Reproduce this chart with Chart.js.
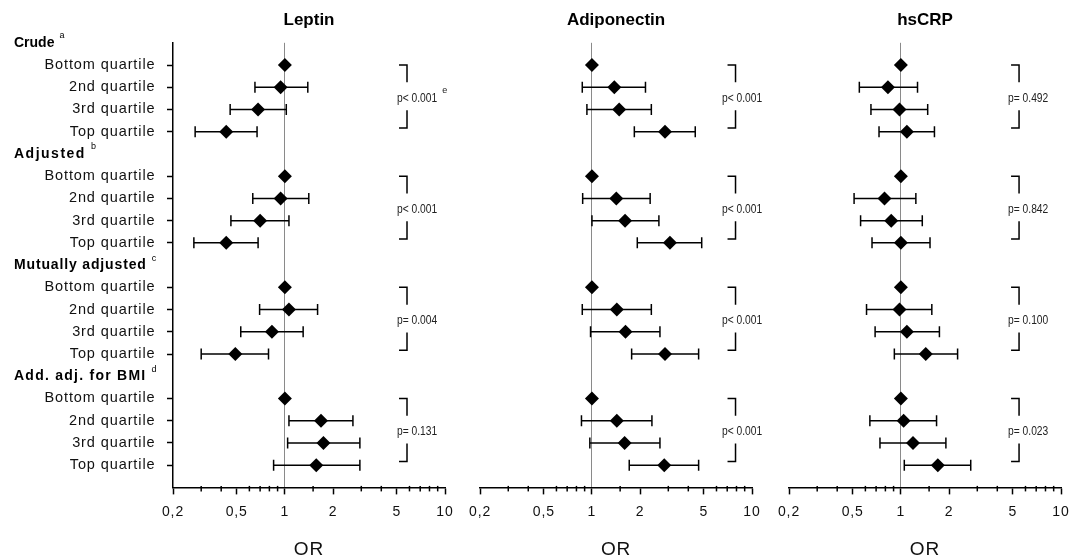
<!DOCTYPE html>
<html>
<head>
<meta charset="utf-8">
<script src="https://cdn.jsdelivr.net/npm/chart.js@4.4.1/dist/chart.umd.min.js"></script>
<style>
  html, body { margin: 0; padding: 0; background: #fff; }
  #wrap { position: relative; width: 1070px; height: 556px; overflow: hidden; }
  canvas { position: absolute; top: 0; }
</style>
</head>
<body>
<div id="wrap">
  <canvas id="leptinChart" width="470" height="556" style="left:0px"></canvas>
  <canvas id="adipoChart" width="320" height="556" style="left:460px"></canvas>
  <canvas id="crpChart" width="330" height="556" style="left:760px"></canvas>
</div>
<script>
// rows: 4 models x 4 quartiles
const quartiles = ['Bottom quartile', '2nd quartile', '3rd quartile', 'Top quartile'];
const models = ['Crude', 'Adjusted', 'Mutually adjusted', 'Add. adj. for BMI'];
const modelNotes = ['a', 'b', 'c', 'd'];
const xTickValues = [0.2, 0.5, 1, 2, 5, 10];
const xTickLabels = ['0,2', '0,5', '1', '2', '5', '10'];

// Leptin
const leptinOR = [1, 0.94, 0.68, 0.43, 1, 0.94, 0.70, 0.43, 1, 1.06, 0.83, 0.49, 1, 1.68, 1.74, 1.57];
const leptinLo = [null, 0.65, 0.455, 0.275, null, 0.63, 0.46, 0.27, null, 0.695, 0.53, 0.30, null, 1.06, 1.04, 0.85];
const leptinHi = [null, 1.39, 1.02, 0.67, null, 1.41, 1.06, 0.68, null, 1.60, 1.30, 0.79, null, 2.66, 2.94, 2.94];
const leptinP = ['p< 0.001', 'p< 0.001', 'p= 0.004', 'p= 0.131'];
const leptinPNote = ['e', '', '', ''];

// Adiponectin
const adipoOR = [1, 1.38, 1.48, 2.86, 1, 1.42, 1.61, 3.07, 1, 1.43, 1.62, 2.86, 1, 1.43, 1.60, 2.83];
const adipoLo = [null, 0.87, 0.93, 1.84, null, 0.875, 1.0, 1.92, null, 0.87, 0.98, 1.77, null, 0.86, 0.97, 1.71];
const adipoHi = [null, 2.16, 2.35, 4.42, null, 2.31, 2.62, 4.85, null, 2.35, 2.66, 4.64, null, 2.37, 2.66, 4.64];
const adipoP = ['p< 0.001', 'p< 0.001', 'p< 0.001', 'p< 0.001'];

// hsCRP
const crpOR = [1, 0.83, 0.98, 1.09, 1, 0.79, 0.87, 1.0, 1, 0.98, 1.09, 1.43, 1, 1.04, 1.19, 1.70];
const crpLo = [null, 0.55, 0.65, 0.73, null, 0.51, 0.56, 0.66, null, 0.61, 0.69, 0.91, null, 0.64, 0.74, 1.05];
const crpHi = [null, 1.27, 1.47, 1.62, null, 1.24, 1.36, 1.52, null, 1.56, 1.74, 2.26, null, 1.67, 1.91, 2.73];
const crpP = ['p= 0.492', 'p= 0.842', 'p= 0.100', 'p= 0.023'];

const SANS = '"Liberation Sans", Arial, sans-serif';
const headerSpacing = [0, 1.5, 0.85, 1.25];

const rowOf = i => Math.floor(i / 4) * 5 + (i % 4) + 1;

function decorPlugin(info) {
    return {
        id: 'decor',
        beforeLayout(chart) { chart.ctx.letterSpacing = '0.9px'; },
        beforeDraw(chart) { chart.ctx.letterSpacing = '0.9px'; },
        afterDraw(chart) {
            const ctx = chart.ctx;
            const area = chart.chartArea;
            const x = chart.scales.x;
            const y = chart.scales.y;
            ctx.save();
            ctx.letterSpacing = '0px';
            ctx.fillStyle = '#000';
            ctx.strokeStyle = '#000';

            // panel title
            ctx.font = 'bold 17px ' + SANS;
            ctx.textAlign = 'center';
            ctx.textBaseline = 'middle';
            ctx.fillText(info.title, (area.left + area.right) / 2, 20);

            // minor ticks on the log axis
            ctx.lineWidth = 1.5;
            x.ticks.forEach(t => {
                if (xTickValues.includes(t.value)) return;
                const px = x.getPixelForValue(t.value);
                ctx.beginPath();
                ctx.moveTo(px, area.bottom - 1.5);
                ctx.lineTo(px, area.bottom + 4);
                ctx.stroke();
            });

            // trend brackets and p values
            const bx = x.getPixelForValue(info.bracketX);
            info.pvals.forEach((p, g) => {
                const r = g * 5;
                const y1 = y.getPixelForValue(r + 1);
                const y2 = y.getPixelForValue(r + 1.78);
                const y3 = y.getPixelForValue(r + 3.03);
                const y4 = y.getPixelForValue(r + 3.83);
                ctx.beginPath();
                ctx.moveTo(bx - 8, y1); ctx.lineTo(bx, y1); ctx.lineTo(bx, y2);
                ctx.moveTo(bx, y3); ctx.lineTo(bx, y4); ctx.lineTo(bx - 8, y4);
                ctx.stroke();
                const ty = y.getPixelForValue(r + 2.5);
                const tx = bx + info.textDx;
                // narrow face: squeeze the sans horizontally
                ctx.save();
                ctx.translate(tx, ty);
                ctx.scale(0.82, 1);
                ctx.font = '12.5px ' + SANS;
                ctx.textAlign = 'left';
                ctx.textBaseline = 'middle';
                ctx.fillStyle = '#222';
                ctx.fillText(p, 0, 0);
                const w = ctx.measureText(p).width * 0.82;
                ctx.restore();
                const note = info.pnotes ? info.pnotes[g] : '';
                if (note) {
                    ctx.font = '9px ' + SANS;
                    ctx.textAlign = 'left';
                    ctx.fillStyle = '#222';
                    ctx.fillText(note, tx + w + 5, ty - 8);
                }
            });

            // model headers on the first panel
            if (info.headers) {
                ctx.fillStyle = '#000';
                models.forEach((m, g) => {
                    const hy = y.getPixelForValue(g * 5);
                    ctx.letterSpacing = headerSpacing[g] + 'px';
                    ctx.font = 'bold 14px ' + SANS;
                    ctx.textAlign = 'left';
                    ctx.textBaseline = 'middle';
                    ctx.fillText(m, 14, hy);
                    const w = ctx.measureText(m).width;
                    ctx.letterSpacing = '0px';
                    ctx.font = '9px ' + SANS;
                    ctx.fillText(modelNotes[g], 14 + w + 5, hy - 7);
                });
            }
            ctx.restore();
        }
    };
}

function makePanel(canvasId, or, lo, hi, info) {
    const diamonds = {
        data: or.map((v, i) => ({x: v, y: rowOf(i)})),
        pointStyle: 'rectRot',
        pointRadius: 7,
        pointBackgroundColor: '#000',
        pointBorderWidth: 0,
        showLine: false
    };
    const ciSets = [];
    or.forEach((v, i) => {
        if (lo[i] == null) return;
        ciSets.push({
            data: [{x: lo[i], y: rowOf(i)}, {x: hi[i], y: rowOf(i)}],
            showLine: true,
            borderColor: '#000',
            borderWidth: 1.5,
            pointStyle: 'line',
            pointRotation: 90,
            pointRadius: 5.5,
            pointBorderColor: '#000',
            pointBorderWidth: 1.5
        });
    });

    return new Chart(document.getElementById(canvasId).getContext('2d'), {
        type: 'scatter',
        data: {datasets: [diamonds, ...ciSets]},
        options: {
            responsive: false,
            animation: false,
            layout: {padding: {top: 42.8, left: info.padLeft, right: info.padRight, bottom: -5}},
            plugins: {legend: {display: false}, tooltip: {enabled: false}},
            scales: {
                x: {
                    type: 'logarithmic',
                    min: 0.2,
                    max: 10,
                    border: {color: '#000', width: 1.5},
                    grid: {
                        color: c => (c.tick && c.tick.value === 1) ? '#8a8a8a' : 'rgba(0,0,0,0)',
                        lineWidth: 1,
                        tickLength: 7,
                        tickWidth: 1.5,
                        tickColor: c => (c.tick && xTickValues.includes(c.tick.value)) ? '#000' : 'rgba(0,0,0,0)'
                    },
                    ticks: {
                        autoSkip: false,
                        maxRotation: 0,
                        padding: 9,
                        color: '#111',
                        font: {family: SANS, size: 14},
                        callback: v => {
                            const k = xTickValues.indexOf(v);
                            return k < 0 ? '' : xTickLabels[k];
                        }
                    },
                    title: {display: true, text: 'OR', color: '#111', font: {family: SANS, size: 19}, padding: 0},
                    afterFit: s => { s.height = 73.6; }
                },
                y: {
                    type: 'linear',
                    reverse: true,
                    min: 0,
                    max: 20,
                    display: info.headers,
                    afterFit: s => { if (info.headers) s.width = 173; },
                    border: {color: '#000', width: 1.5},
                    grid: {
                        drawOnChartArea: false,
                        tickLength: 6,
                        tickWidth: 1.5,
                        tickColor: c => (c.tick && c.tick.value % 5 !== 0) ? '#000' : 'rgba(0,0,0,0)'
                    },
                    ticks: {
                        stepSize: 1,
                        autoSkip: false,
                        padding: 11.5,
                        color: '#111',
                        font: {family: SANS, size: 14.5},
                        callback: v => v % 5 === 0 ? '' : quartiles[v % 5 - 1]
                    }
                }
            }
        },
        plugins: [decorPlugin(info)]
    });
}

const leptinChart = makePanel('leptinChart', leptinOR, leptinLo, leptinHi, {
    title: 'Leptin', pvals: leptinP, pnotes: leptinPNote, headers: true,
    bracketX: 5.79, textDx: -10, padLeft: 0, padRight: 25
});
const adipoChart = makePanel('adipoChart', adipoOR, adipoLo, adipoHi, {
    title: 'Adiponectin', pvals: adipoP, headers: false,
    bracketX: 7.89, textDx: -13.5, padLeft: 20, padRight: 28
});
const crpChart = makePanel('crpChart', crpOR, crpLo, crpHi, {
    title: 'hsCRP', pvals: crpP, headers: false,
    bracketX: 5.47, textDx: -11, padLeft: 29, padRight: 29
});
</script>
</body>
</html>
